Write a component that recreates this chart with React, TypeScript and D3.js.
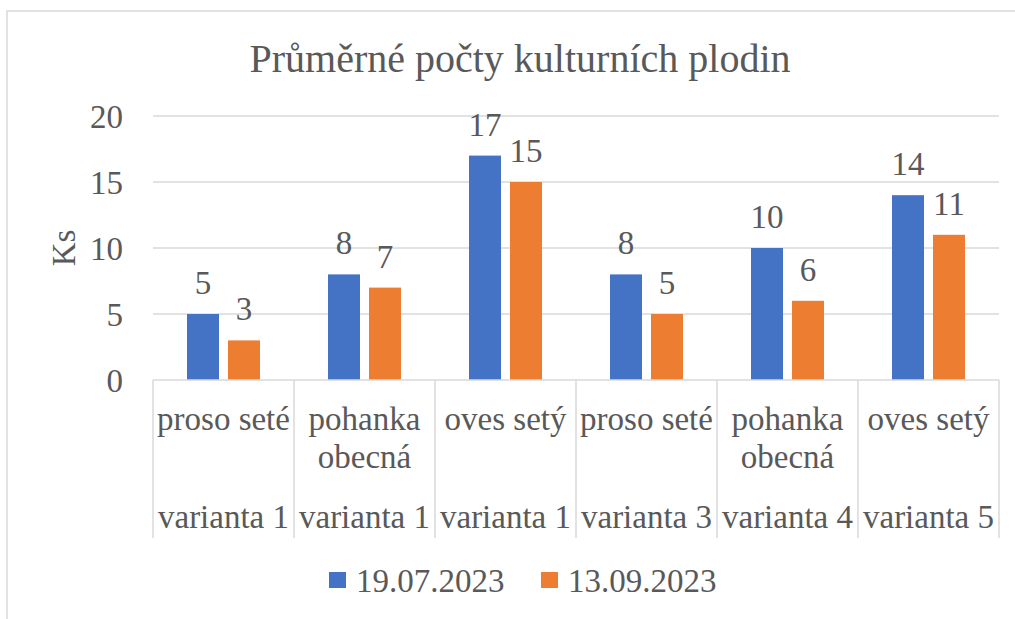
import React from 'react';
import { scaleBand, scaleLinear } from 'd3';

const crops = ['proso seté', 'pohanka obecná', 'oves setý', 'proso seté', 'pohanka obecná', 'oves setý'];
const cropLines = [['proso seté'], ['pohanka', 'obecná'], ['oves setý'], ['proso seté'], ['pohanka', 'obecná'], ['oves setý']];
const variants = ['varianta 1', 'varianta 1', 'varianta 1', 'varianta 3', 'varianta 4', 'varianta 5'];
const seriesNames = ['19.07.2023', '13.09.2023'];
const july = [5, 8, 17, 8, 10, 14];
const september = [3, 7, 15, 5, 6, 11];
const yTicks = [0, 5, 10, 15, 20];

const colors = ['#4472C4', '#ED7D31'];
const textColor = '#595959';
const gridColor = '#d9d9d9';
const font = "'Liberation Serif', 'Times New Roman', Tinos, 'DejaVu Serif', serif";

export default function App() {
  const width = 1015;
  const height = 619;
  const left = 153;
  const right = 999;
  const top = 116;
  const bottom = 380;

  const keys = crops.map((_, i) => String(i));
  const x = scaleBand<string>().domain(keys).range([left, right]).paddingInner(0).paddingOuter(0);
  const y = scaleLinear().domain([0, 20]).range([bottom, top]);

  const barW = 32;
  const gap = 9;
  const series = [july, september];
  const ts = { fontFamily: font, fill: textColor };

  return (
    <svg width={width} height={height} style={{ position: 'absolute', left: 0, top: 0, background: '#fff' }}>
      <rect x={0} y={0} width={width} height={height} fill="#fff" />
      {/* chart frame, cut off at right and bottom */}
      <rect x={7} y={11} width={1030} height={640} fill="none" stroke={gridColor} strokeWidth={1.5} />

      <text x={520} y={72} textAnchor="middle" fontSize={40} style={ts}>
        Průměrné počty kulturních plodin
      </text>

      {/* gridlines */}
      {yTicks.filter(t => t > 0).map(t => (
        <line key={t} x1={left} x2={right} y1={y(t)} y2={y(t)} stroke={gridColor} strokeWidth={1.5} />
      ))}
      {yTicks.map(t => (
        <text key={'l' + t} x={123} y={y(t)} dy="0.35em" textAnchor="end" fontSize={33} style={ts}>{t}</text>
      ))}
      <text transform={`translate(75,${(top + bottom) / 2}) rotate(-90)`} textAnchor="middle" fontSize={33} style={ts}>Ks</text>

      {/* bars */}
      {keys.map((k, i) => {
        const cx = (x(k) || 0) + x.bandwidth() / 2;
        return series.map((s, j) => {
          const bx = j === 0 ? cx - gap / 2 - barW : cx + gap / 2;
          return (
            <g key={k + '-' + j}>
              <rect x={bx} y={y(s[i])} width={barW} height={bottom - y(s[i])} fill={colors[j]} />
              <text x={bx + barW / 2} y={y(s[i]) - 20} textAnchor="middle" fontSize={33} style={ts}>{s[i]}</text>
            </g>
          );
        });
      })}

      {/* x axis */}
      <line x1={left} x2={right} y1={bottom} y2={bottom} stroke={gridColor} strokeWidth={1.5} />
      {[...keys.map(k => x(k) || 0), right].map((px, i) => (
        <line key={'sep' + i} x1={px} x2={px} y1={bottom} y2={538} stroke={gridColor} strokeWidth={1.5} />
      ))}
      {keys.map((k, i) => {
        const cx = (x(k) || 0) + x.bandwidth() / 2;
        return (
          <g key={'cat' + k}>
            {cropLines[i].map((ln, li) => (
              <text key={li} x={cx} y={430 + li * 38} textAnchor="middle" fontSize={33} style={ts}>{ln}</text>
            ))}
            <text x={cx} y={528} textAnchor="middle" fontSize={33} style={ts}>{variants[i]}</text>
          </g>
        );
      })}

      {/* legend */}
      {seriesNames.map((n, j) => {
        const lx = j === 0 ? 329 : 541;
        return (
          <g key={n}>
            <rect x={lx} y={572} width={17} height={16} fill={colors[j]} />
            <text x={lx + 27} y={592} fontSize={33} style={ts}>{n}</text>
          </g>
        );
      })}
    </svg>
  );
}
